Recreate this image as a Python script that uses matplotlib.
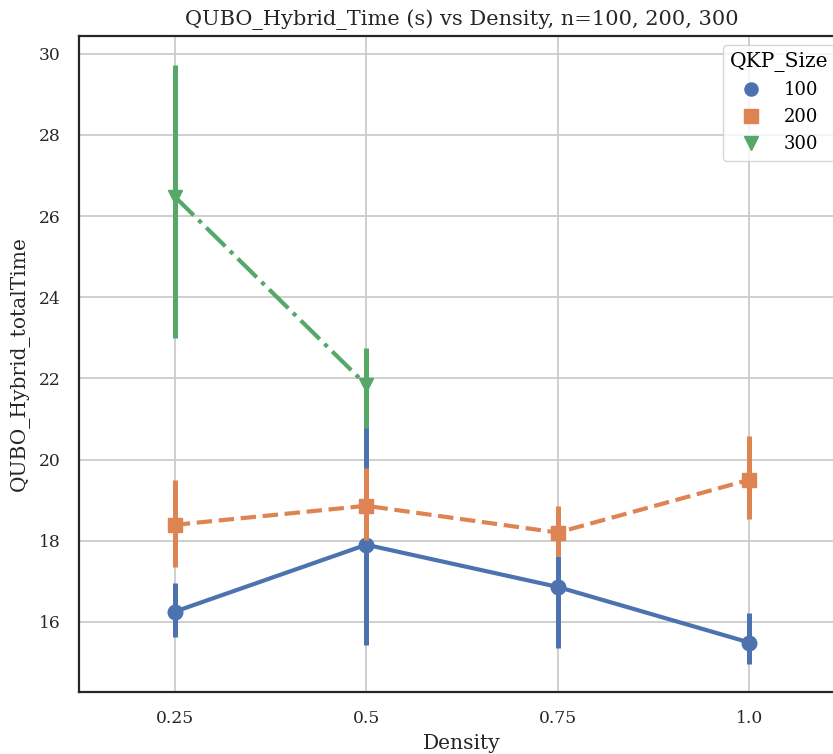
import matplotlib.pyplot as plt
import numpy as np

densities = ["0.25", "0.5", "0.75", "1.0"]
sizes = ["100", "200", "300"]

# mean total time per density and the ends of its error bar
mean_100 = [16.25, 17.90, 16.86, 15.49]
low_100 = [15.63, 15.43, 15.35, 14.96]
high_100 = [16.96, 20.90, 17.61, 16.21]

mean_200 = [18.39, 18.86, 18.20, 19.50]
low_200 = [17.36, 18.02, 17.61, 18.53]
high_200 = [19.50, 19.79, 18.86, 20.57]

mean_300 = [26.48, 21.84]
low_300 = [23.00, 20.77]
high_300 = [29.73, 22.76]

plt.rcParams['font.family'] = ['DejaVu Serif']

fig = plt.figure(figsize=(8.33, 7.54), dpi=100)
ax = fig.add_axes([79 / 833, 1 - 692 / 754, (845 - 79) / 833, (692 - 36) / 754])

series = [
    (mean_100, low_100, high_100, "#4C72B0", "o", "-"),
    (mean_200, low_200, high_200, "#DD8452", "s", "--"),
    (mean_300, low_300, high_300, "#55A868", "v", "-."),
]

for i, (m, lo, hi, col, mk, ls) in enumerate(series):
    x = np.arange(len(m))
    ax.vlines(x, lo, hi, color=col, lw=3.6, zorder=3 + i)
    ax.plot(x, m, color=col, marker=mk, ls=ls, lw=3, ms=10.5,
            label=sizes[i], zorder=3 + i)

ax.set_xticks(np.arange(len(densities)))
ax.set_xticklabels(densities)
ax.set_xlim(-0.5, 3.5)
ax.set_ylim(14.27, 30.44)
ax.set_yticks([16, 18, 20, 22, 24, 26, 28, 30])
ax.tick_params(labelsize=12.3, length=0, pad=13, colors="#262626")

ax.grid(True, color="#cccccc", lw=1.3)
ax.set_axisbelow(True)
for s in ax.spines.values():
    s.set_color("#262626")
    s.set_linewidth(1.6)

ax.set_xlabel("Density", fontsize=14.6, color="#262626", labelpad=5)
ax.set_ylabel("QUBO_Hybrid_totalTime", fontsize=14.5, color="#262626", labelpad=7)
ax.set_title("QUBO_Hybrid_Time (s) vs Density, n=100, 200, 300",
             fontsize=15, color="#262626", pad=8)

leg = ax.legend(title="QKP_Size", loc="upper right", fontsize=13,
                title_fontsize=14.6, handlelength=1.2, markerscale=0.9,
                handletextpad=1.2, labelspacing=0.5,
                borderaxespad=0.5, framealpha=0.8)
for h in leg.legend_handles:
    h.set_linestyle("")
leg.get_frame().set_edgecolor("#cccccc")

fig.savefig("out.png", dpi=100)
